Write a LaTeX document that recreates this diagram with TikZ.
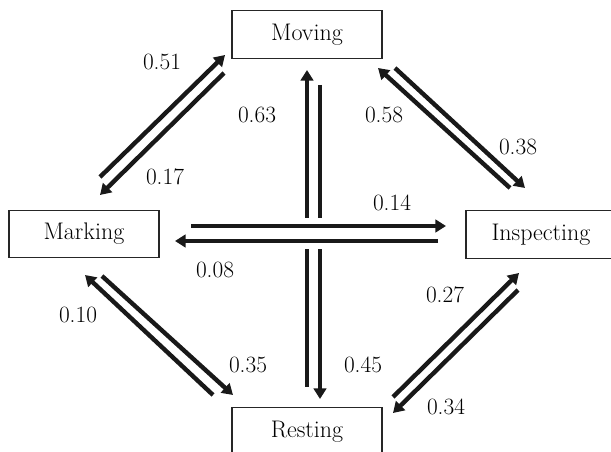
\documentclass[tikz,border=0pt]{standalone}
\usetikzlibrary{arrows.meta}
\begin{document}
\begin{tikzpicture}[x=0.75pt,y=-0.75pt,
  state/.style={draw=black!85,line width=0.8pt,minimum width=112.5pt,minimum height=35.5pt,inner sep=0pt,font=\fontsize{18}{21}\selectfont},
  prob/.style={font=\fontsize{17.5}{21}\selectfont,inner sep=0pt},
  trans/.style={line width=3.3pt,black!90,-{Triangle[length=8pt,width=9.5pt]}},
  crossing/.style={preaction={draw=white,line width=12pt,arrows=-}}]
\useasboundingbox (0,0) rectangle (611,452);
% states
\node[state] (Moving) at (307,34.5) {Moving};
\node[state] (Marking) at (84,234) {Marking};
\node[state] (Inspecting) at (541,234.5) {Inspecting};
\node[state] (Resting) at (307,431.5) {Resting};
% connector end points
\coordinate (k1) at (100,177); \coordinate (m1) at (225,55);
\coordinate (m2) at (224,73);  \coordinate (k2) at (100,195);
\coordinate (r1) at (307,387); \coordinate (m3) at (307,70);
\coordinate (m4) at (320,85);  \coordinate (r2) at (320,399);
\coordinate (m5) at (395,68);  \coordinate (i1) at (525,188);
\coordinate (i2) at (510,188); \coordinate (m6) at (378,68);
\coordinate (k3) at (191,226); \coordinate (i3) at (446,226);
\coordinate (i4) at (438,241); \coordinate (k4) at (175,241);
\coordinate (r3) at (393,397); \coordinate (i5) at (519,273);
\coordinate (i6) at (518,290); \coordinate (r4) at (393,413);
\coordinate (r5) at (213,395); \coordinate (k5) at (85,275);
\coordinate (k6) at (102,276); \coordinate (r6) at (233,395);
% transitions
\draw[trans] (k1) -- (m1);
\draw[trans] (m2) -- (k2);
\draw[trans] (r1) -- (m3);
\draw[trans] (m4) -- (r2);
\draw[trans] (m5) -- (i1);
\draw[trans] (i2) -- (m6);
\draw[trans,crossing] (k3) -- (i3);
\draw[trans,crossing] (i4) -- (k4);
\draw[trans] (r3) -- (i5);
\draw[trans] (i6) -- (r4);
\draw[trans] (r5) -- (k5);
\draw[trans] (k6) -- (r6);
% probabilities
\node[prob] (p51) at (162,62) {0.51};
\node[prob] (p17) at (165,177) {0.17};
\node[prob] (p63) at (257,115) {0.63};
\node[prob] (p58) at (384,115) {0.58};
\node[prob] (p38) at (518,147) {0.38};
\node[prob] (p14) at (392,203) {0.14};
\node[prob] (p08) at (215,270) {0.08};
\node[prob] (p10) at (78,315) {0.10};
\node[prob] (p35) at (248,365) {0.35};
\node[prob] (p45) at (363,365) {0.45};
\node[prob] (p27) at (445,295) {0.27};
\node[prob] (p34) at (446,407) {0.34};
\end{tikzpicture}
\end{document}
